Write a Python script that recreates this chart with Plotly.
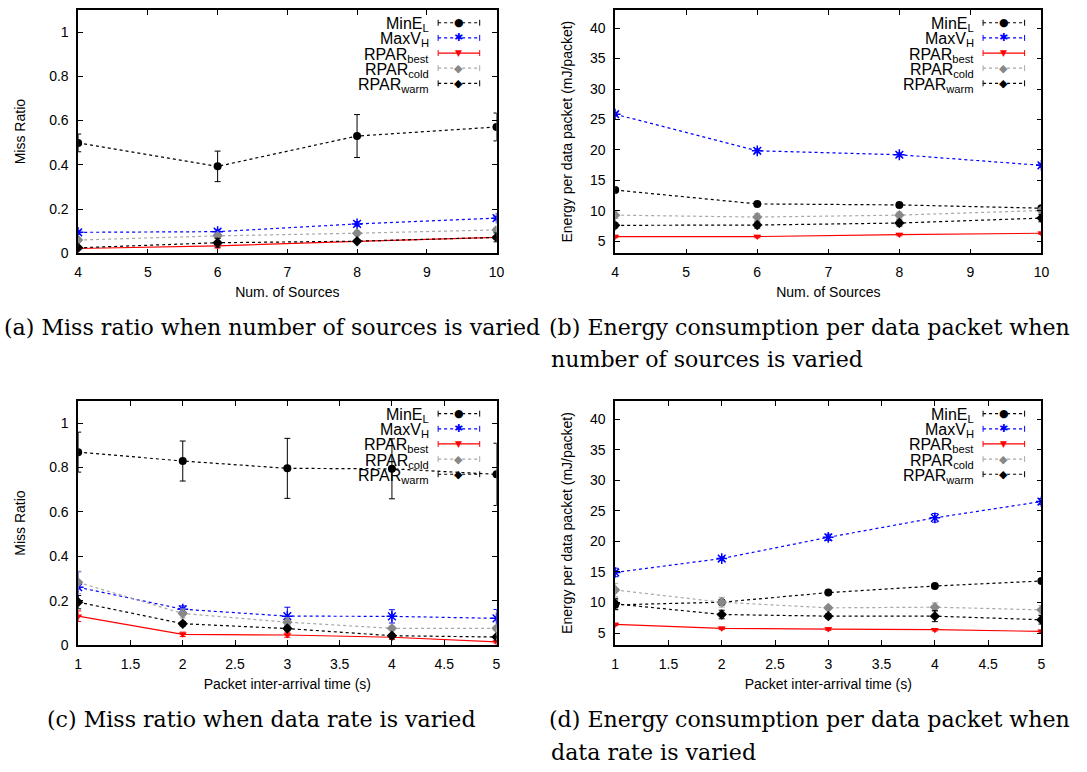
import plotly.graph_objects as go

# ---------------- data ----------------
sources = [4, 6, 8, 10]
interarrival = [1, 2, 3, 4, 5]

# (a) miss ratio vs number of sources
a_mine = [0.499, 0.393, 0.530, 0.571]
a_mine_err = [0.040, 0.069, 0.097, 0.063]
a_maxv = [0.095, 0.098, 0.133, 0.159]
a_maxv_err = [0.008, 0.008, 0.010, 0.008]
a_best = [0.022, 0.034, 0.054, 0.072]
a_best_err = [0.005, 0.010, 0.005, 0.005]
a_cold = [0.060, 0.079, 0.091, 0.106]
a_cold_err = [0.005, 0.010, 0.010, 0.010]
a_warm = [0.025, 0.048, 0.055, 0.072]
a_warm_err = [0.005, 0.020, 0.005, 0.020]

# (b) energy vs number of sources
b_mine = [13.40, 11.12, 10.96, 10.42]
b_mine_err = [0.3, 0.3, 0.3, 0.3]
b_maxv = [25.86, 19.85, 19.20, 17.46]
b_maxv_err = [0.3, 0.3, 0.3, 0.3]
b_best = [5.76, 5.76, 6.08, 6.30]
b_best_err = [0.2, 0.2, 0.2, 0.2]
b_cold = [9.28, 8.96, 9.28, 10.04]
b_cold_err = [0.5, 0.6, 0.5, 0.4]
b_warm = [7.60, 7.65, 7.98, 8.79]
b_warm_err = [0.4, 0.5, 0.5, 0.6]

# (c) miss ratio vs packet inter-arrival time
c_mine = [0.869, 0.829, 0.796, 0.794, 0.769]
c_mine_err = [0.090, 0.090, 0.135, 0.135, 0.140]
c_maxv = [0.261, 0.162, 0.131, 0.130, 0.121]
c_maxv_err = [0.070, 0.015, 0.040, 0.030, 0.040]
c_best = [0.131, 0.049, 0.046, 0.036, 0.015]
c_best_err = [0.024, 0.010, 0.010, 0.010, 0.005]
c_cold = [0.283, 0.143, 0.104, 0.076, 0.076]
c_cold_err = [0.050, 0.020, 0.020, 0.010, 0.010]
c_warm = [0.194, 0.097, 0.075, 0.043, 0.037]
c_warm_err = [0.030, 0.010, 0.010, 0.010, 0.005]

# (d) energy vs packet inter-arrival time
d_mine = [9.61, 10.04, 11.61, 12.69, 13.51]
d_mine_err = [0.8, 0.4, 0.3, 0.3, 0.3]
d_maxv = [14.91, 17.19, 20.66, 23.85, 26.51]
d_maxv_err = [0.7, 0.3, 0.5, 0.7, 0.5]
d_best = [6.41, 5.76, 5.65, 5.54, 5.27]
d_best_err = [0.2, 0.2, 0.2, 0.2, 0.2]
d_cold = [12.04, 10.04, 9.12, 9.23, 8.79]
d_cold_err = [1.1, 0.8, 0.3, 0.7, 0.7]
d_warm = [9.77, 8.03, 7.76, 7.76, 7.17]
d_warm_err = [0.9, 0.7, 0.4, 0.9, 0.7]

series_names = ["MinE<sub>L</sub>", "MaxV<sub>H</sub>", "RPAR<sub>best</sub>",
                "RPAR<sub>cold</sub>", "RPAR<sub>warm</sub>"]

captions = [
    ("(a) Miss ratio when number of sources is varied", -2, 330),
    ("(b) Energy consumption per data packet when", 549, 330),
    ("number of sources is varied", 551, 363),
    ("(c) Miss ratio when data rate is varied", 41, 727),
    ("(d) Energy consumption per data packet when", 549, 727),
    ("data rate is varied", 551, 760),
]

# ---------------- styles ----------------
W, H = 1087, 772
styles = [
    dict(color="#000000", line_color="#000000", dash="3px,3px", symbol="circle", size=8, glyph="●", gsize=11),
    dict(color="#0000ff", line_color="#0000ff", dash="3px,3px", symbol="asterisk-open", size=9, glyph="✱", gsize=11),
    dict(color="#ff0000", line_color="#ff0000", dash="solid", symbol="triangle-down", size=7, glyph="▼", gsize=9),
    dict(color="#888888", line_color="#a8a8a8", dash="3px,3px", symbol="diamond", size=8, glyph="◆", gsize=11),
    dict(color="#000000", line_color="#000000", dash="3px,3px", symbol="diamond", size=8, glyph="◆", gsize=11),
]

panels = [
    dict(x=sources, ys=[(a_mine, a_mine_err), (a_maxv, a_maxv_err), (a_best, a_best_err),
                        (a_cold, a_cold_err), (a_warm, a_warm_err)],
         xd=[75, 498], yd=[10, 256], xr=[4, 10], yr=[0, 1.1], dx=1, dy=0.2,
         xt="Num. of Sources", yt="Miss Ratio"),
    dict(x=sources, ys=[(b_mine, b_mine_err), (b_maxv, b_maxv_err), (b_best, b_best_err),
                        (b_cold, b_cold_err), (b_warm, b_warm_err)],
         xd=[618, 1049], yd=[10, 256], xr=[4, 10], yr=[3, 43], dx=1, dy=5,
         xt="Num. of Sources", yt="Energy per data packet (mJ/packet)"),
    dict(x=interarrival, ys=[(c_mine, c_mine_err), (c_maxv, c_maxv_err), (c_best, c_best_err),
                             (c_cold, c_cold_err), (c_warm, c_warm_err)],
         xd=[75, 498], yd=[405, 652], xr=[1, 5], yr=[0, 1.1], dx=0.5, dy=0.2,
         xt="Packet inter-arrival time (s)", yt="Miss Ratio"),
    dict(x=interarrival, ys=[(d_mine, d_mine_err), (d_maxv, d_maxv_err), (d_best, d_best_err),
                             (d_cold, d_cold_err), (d_warm, d_warm_err)],
         xd=[618, 1049], yd=[405, 652], xr=[1, 5], yr=[3, 43], dx=0.5, dy=5,
         xt="Packet inter-arrival time (s)", yt="Energy per data packet (mJ/packet)"),
]

FONT = "Liberation Sans, Arial, sans-serif"
fig = go.Figure()
annotations = []
shapes = []

for i, p in enumerate(panels):
    k = "" if i == 0 else str(i + 1)
    xa, ya = "x" + k, "y" + k
    for (vals, errs), st, name in zip(p["ys"], styles, series_names):
        fig.add_trace(go.Scatter(
            x=p["x"], y=vals, xaxis=xa, yaxis=ya, mode="lines+markers", name=name,
            showlegend=False,
            line=dict(color=st["line_color"], width=1.2, dash=st["dash"]),
            marker=dict(symbol=st["symbol"], size=st["size"], color=st["color"],
                        line=dict(color=st["color"], width=1.5 if "open" in st["symbol"] else 0)),
            error_y=dict(type="data", array=errs, visible=True, color=st["line_color"],
                         thickness=1, width=3),
        ))
    axcommon = dict(showline=True, linecolor="black", linewidth=1.5, mirror="ticks",
                    ticks="inside", ticklen=5, tickcolor="black", tickwidth=1,
                    showgrid=False, zeroline=False, ticklabelstandoff=5,
                    tickfont=dict(family=FONT, size=14, color="black"))
    fig.update_layout(**{
        ("xaxis" + k): dict(domain=[p["xd"][0] / W, p["xd"][1] / W], range=p["xr"], dtick=p["dx"],
                            tick0=p["xr"][0], anchor=ya,
                            title=dict(text=p["xt"], font=dict(family=FONT, size=14, color="black"),
                                       standoff=8), **axcommon),
        ("yaxis" + k): dict(domain=[1 - p["yd"][1] / H, 1 - p["yd"][0] / H], range=p["yr"], dtick=p["dy"],
                            tick0=0, anchor=xa,
                            title=dict(text=p["yt"], font=dict(family=FONT, size=14, color="black"),
                                       standoff=20 if i % 2 == 0 else 14), **axcommon),
    })
    # manual legend (text right-aligned, key sample to the right)
    xref, yref = xa + " domain", ya + " domain"
    ph = p["yd"][1] - p["yd"][0]
    pw = p["xd"][1] - p["xd"][0]
    for j, (st, name) in enumerate(zip(styles, series_names)):
        yy = 1 - (13 + 15.3 * j) / ph
        tx = (p["xd"][1] - 66 - p["xd"][0]) / pw
        sx0 = (p["xd"][1] - 59 - p["xd"][0]) / pw
        sx1 = (p["xd"][1] - 17 - p["xd"][0]) / pw
        annotations.append(dict(text=name, xref=xref, yref=yref, x=tx, y=yy, xanchor="right",
                                yanchor="middle", showarrow=False, yshift=-2,
                                font=dict(family=FONT, size=16, color="black")))
        shapes.append(dict(type="line", xref=xref, yref=yref, x0=sx0, x1=sx1, y0=yy, y1=yy,
                           line=dict(color=st["line_color"], width=1.2, dash=st["dash"])))
        for sx in (sx0, sx1):
            shapes.append(dict(type="line", xref=xref, yref=yref, x0=sx, x1=sx,
                               y0=yy - 3 / ph, y1=yy + 3 / ph,
                               line=dict(color=st["line_color"], width=1)))
        annotations.append(dict(text=st["glyph"], xref=xref, yref=yref, x=(sx0 + sx1) / 2, y=yy,
                                xanchor="center", yanchor="middle", showarrow=False,
                                font=dict(family="DejaVu Sans", size=st["gsize"], color=st["color"])))

for text, px, py in captions:
    annotations.append(dict(text=text, xref="paper", yref="paper", x=px / W, y=1 - py / H,
                            xanchor="left", yanchor="middle", showarrow=False,
                            font=dict(family="DejaVu Serif", size=22.1, color="black")))

fig.update_layout(width=W, height=H, margin=dict(l=0, r=0, t=0, b=0),
                  paper_bgcolor="white", plot_bgcolor="white",
                  annotations=annotations, shapes=shapes, showlegend=False)

fig.write_html("out.html")
